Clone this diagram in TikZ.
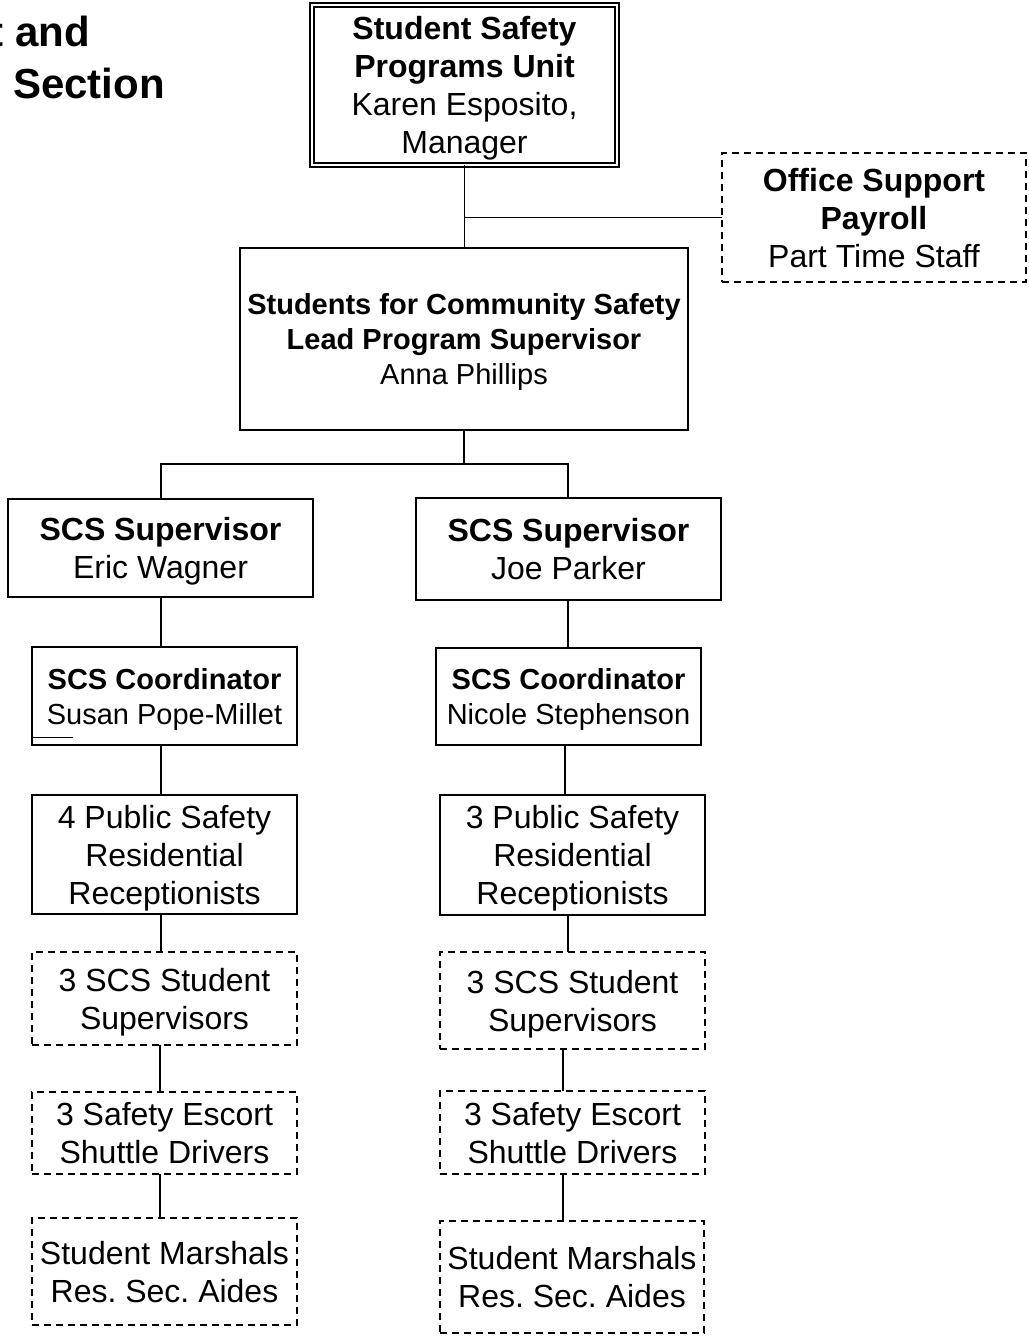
\documentclass[tikz,border=0pt]{standalone}
\usepackage{fontspec}
\setmainfont{Liberation Sans}
\frenchspacing
\begin{document}
\begin{tikzpicture}[x=1pt,y=-1pt,
  base/.style={draw, line width=1.7pt, align=center, inner sep=0pt, outer sep=0pt,
    text depth=0pt, font=\fontsize{32}{38}\selectfont},
  small/.style={font=\fontsize{29}{35}\selectfont},
  solidbox/.style={base},
  dashbox/.style={base, line width=1.5pt, dash pattern=on 7pt off 5pt},
  topbox/.style={base, line width=1.3pt, double, double distance=2.7pt},
  conn/.style={line width=1.7pt},
  titlefont/.style={font=\fontsize{42}{48}\selectfont\bfseries, inner sep=0pt, anchor=base east}
]
\useasboundingbox (0,0) rectangle (1028,1340);
\clip (0,0) rectangle (1028,1340);

% partial title at top left
\node[titlefont] (t1) at (90,47) {t and};
\node[titlefont] (t2) at (165,99) {Section};

% nodes
\node[topbox, minimum width=305pt, minimum height=160pt] (top) at (464.5,85)
  {\textbf{Student Safety}\\\textbf{Programs Unit}\\Karen Esposito,\\Manager};
\node[dashbox, minimum width=304pt, minimum height=129pt] (office) at (874,217.5)
  {\textbf{Office Support}\\\textbf{Payroll}\\Part Time Staff};
\node[solidbox, small, minimum width=448pt, minimum height=182pt] (lead) at (464,339)
  {\textbf{Students for Community Safety}\\\textbf{Lead Program Supervisor}\\Anna Phillips};

\node[solidbox, minimum width=305pt, minimum height=98pt] (sup1) at (160.5,548)
  {\textbf{SCS Supervisor}\\Eric Wagner};
\node[solidbox, minimum width=305pt, minimum height=102pt] (sup2) at (568.5,549)
  {\textbf{SCS Supervisor}\\Joe Parker};

\node[solidbox, small, minimum width=265pt, minimum height=98pt] (coord1) at (164.5,696)
  {\textbf{SCS Coordinator}\\Susan Pope-Millet};
\node[solidbox, small, minimum width=265pt, minimum height=97pt] (coord2) at (568.5,696.5)
  {\textbf{SCS Coordinator}\\Nicole Stephenson};

\node[solidbox, minimum width=265pt, minimum height=119pt] (rec1) at (164.5,854.5)
  {4 Public Safety\\Residential\\Receptionists};
\node[solidbox, minimum width=265pt, minimum height=120pt] (rec2) at (572.5,855)
  {3 Public Safety\\Residential\\Receptionists};

\node[dashbox, minimum width=265pt, minimum height=93pt] (ss1) at (164.5,998.5)
  {3 SCS Student\\Supervisors};
\node[dashbox, minimum width=265pt, minimum height=97pt] (ss2) at (572.5,1000.5)
  {3 SCS Student\\Supervisors};

\node[dashbox, minimum width=265pt, minimum height=82pt] (sd1) at (164.5,1133)
  {3 Safety Escort\\Shuttle Drivers};
\node[dashbox, minimum width=265pt, minimum height=83pt] (sd2) at (572.5,1132.5)
  {3 Safety Escort\\Shuttle Drivers};

\node[dashbox, minimum width=265pt, minimum height=107pt] (sm1) at (164.5,1271.5)
  {Student Marshals\\Res. Sec. Aides};
\node[dashbox, minimum width=264pt, minimum height=112pt] (sm2) at (572,1277)
  {Student Marshals\\Res. Sec. Aides};

% helper coordinates
\coordinate (bus) at (464,464);
\coordinate (xl) at (161,0);
\coordinate (xl2) at (160,0);
\coordinate (xr1) at (568,0);
\coordinate (xr2) at (565,0);
\coordinate (xr3) at (563,0);

% connectors
\draw[conn] (top.south) -- (top.south |- lead.north);
\draw[conn] (top.south |- office.west) -- (office.west);
\draw[conn] (lead.south) -- (lead.south |- bus);
\draw[conn] (sup1.north -| xl) -- (xl |- bus) -- (xr1 |- bus) -- (sup2.north -| xr1);

\draw[conn] (sup1.south -| xl) -- (coord1.north -| xl);
\draw[conn] (coord1.south -| xl) -- (rec1.north -| xl);
\draw[conn] (rec1.south -| xl) -- (ss1.north -| xl);
\draw[conn] (ss1.south -| xl2) -- (sd1.north -| xl2);
\draw[conn] (sd1.south -| xl2) -- (sm1.north -| xl2);

\draw[conn] (sup2.south -| xr1) -- (coord2.north -| xr1);
\draw[conn] (coord2.south -| xr2) -- (rec2.north -| xr2);
\draw[conn] (rec2.south -| xr1) -- (ss2.north -| xr1);
\draw[conn] (ss2.south -| xr3) -- (sd2.north -| xr3);
\draw[conn] (sd2.south -| xr3) -- (sm2.north -| xr3);

% small stray stroke inside the left coordinator box
\draw[line width=0.9pt] (33,737) -- (73,737);
\end{tikzpicture}
\end{document}
